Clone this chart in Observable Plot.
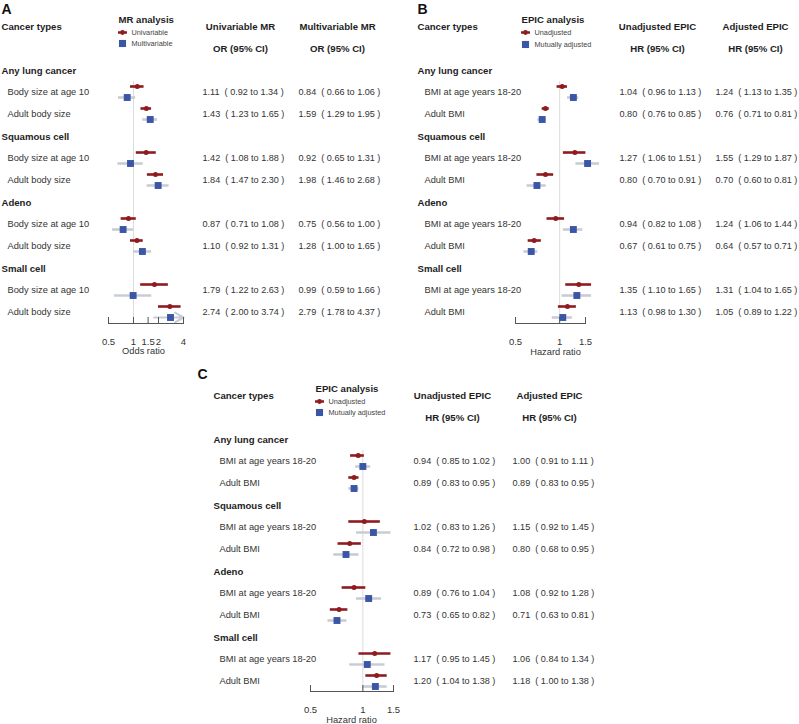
<!DOCTYPE html>
<html><head><meta charset="utf-8">
<script src="https://cdn.jsdelivr.net/npm/d3@7"></script>
<script src="https://cdn.jsdelivr.net/npm/@observablehq/plot@0.6"></script>
<style>
html,body{margin:0;padding:0;background:#fff;}
#root{position:relative;width:799px;height:724px;overflow:hidden;background:#fff;}
#root svg{position:absolute;left:0;top:0;}
</style></head><body><div id="root"></div>
<script>
// ---------- data ----------
const groups = ["Any lung cancer", "Squamous cell", "Adeno", "Small cell"];

// Panel A (MR analysis)
const exposuresA = ["Body size at age 10", "Adult body size"];
const uniOR  = [1.11, 1.43, 1.42, 1.84, 0.87, 1.10, 1.79, 2.74];
const uniLo  = [0.92, 1.23, 1.08, 1.47, 0.71, 0.92, 1.22, 2.00];
const uniHi  = [1.34, 1.65, 1.88, 2.30, 1.08, 1.31, 2.63, 3.74];
const mvOR   = [0.84, 1.59, 0.92, 1.98, 0.75, 1.28, 0.99, 2.79];
const mvLo   = [0.66, 1.29, 0.65, 1.46, 0.56, 1.00, 0.59, 1.78];
const mvHi   = [1.06, 1.95, 1.31, 2.68, 1.00, 1.65, 1.66, 4.37];
const ticksA = [0.5, 1, 1.5, 2, 4];

// Panel B (EPIC analysis)
const exposuresB = ["BMI at age years 18-20", "Adult BMI"];
const unadjB   = [1.04, 0.80, 1.27, 0.80, 0.94, 0.67, 1.35, 1.13];
const unadjBLo = [0.96, 0.76, 1.06, 0.70, 0.82, 0.61, 1.10, 0.98];
const unadjBHi = [1.13, 0.85, 1.51, 0.91, 1.08, 0.75, 1.65, 1.30];
const adjB     = [1.24, 0.76, 1.55, 0.70, 1.24, 0.64, 1.31, 1.05];
const adjBLo   = [1.13, 0.71, 1.29, 0.60, 1.06, 0.57, 1.04, 0.89];
const adjBHi   = [1.35, 0.81, 1.87, 0.81, 1.44, 0.71, 1.65, 1.22];
const ticksB = [0.5, 1, 1.5];

// Panel C (EPIC analysis)
const exposuresC = ["BMI at age years 18-20", "Adult BMI"];
const unadjC   = [0.94, 0.89, 1.02, 0.84, 0.89, 0.73, 1.17, 1.20];
const unadjCLo = [0.85, 0.83, 0.83, 0.72, 0.76, 0.65, 0.95, 1.04];
const unadjCHi = [1.02, 0.95, 1.26, 0.98, 1.04, 0.82, 1.45, 1.38];
const adjC     = [1.00, 0.89, 1.15, 0.80, 1.08, 0.71, 1.06, 1.18];
const adjCLo   = [0.91, 0.83, 0.92, 0.68, 0.92, 0.63, 0.84, 1.00];
const adjCHi   = [1.11, 0.95, 1.45, 0.95, 1.28, 0.81, 1.34, 1.38];
const ticksC = [0.5, 1, 1.5];

// ---------- styling ----------
const W = 799, H = 724;
const RED = "#8e1b1f", BLUE = "#3b56a6", GREY = "#c8ccd4", REF = "#dcdcdc", AXIS = "#555", TXT = "#1e1e1e", TXT2 = "#333";
const FONT = "'Liberation Sans', Arial, Helvetica, sans-serif";
const NB = "\u00a0";
const VAL_FS = 9.1;
const fmt = (e, l, h) => `${e.toFixed(2)}${NB}${NB}(${NB}${l.toFixed(2)} to ${h.toFixed(2)}${NB})`;

const lineDot = {
  draw(ctx) {
    ctx.moveTo(-4.5, -1.2); ctx.lineTo(4.5, -1.2); ctx.lineTo(4.5, 1.2); ctx.lineTo(-4.5, 1.2); ctx.closePath();
    ctx.moveTo(2.4, 0); ctx.arc(0, 0, 2.4, 0, 2 * Math.PI);
  }
};

function panel(c) {
  const L = c.L;
  const n = c.exposures.length;
  const rows = [];
  groups.forEach((g, gi) => {
    rows.push({id: `g${gi}`, label: g});
    c.exposures.forEach((e, ei) => rows.push({id: `r${gi}_${ei}`, label: e, k: gi * n + ei}));
  });
  const data = rows.filter(r => r.k !== undefined).map(r => ({
    id: r.id,
    e1: c.s1.est[r.k], l1: c.s1.lo[r.k], h1: c.s1.hi[r.k],
    e2: c.s2.est[r.k], l2: c.s2.lo[r.k], h2: c.s2.hi[r.k]
  }));
  const ML = L.axisX0, MR = W - L.axisX1, MB = H - L.axisY;
  const dx = x => x - ML;
  const T = (text, x, y, o = {}) => Plot.text([text], {
    text: d => d, frameAnchor: "top-left", dx: dx(x), dy: y,
    lineAnchor: "middle", textAnchor: "start", fill: TXT, fontSize: 9.3, ...o
  });
  const clipMax = c.clipMax ?? Infinity;
  const inside = data.filter(d => d.h2 <= clipMax);
  const over = data.filter(d => d.h2 > clipMax);

  const marks = [
    Plot.ruleX([1], {x: d => d, stroke: REF, strokeWidth: 1, insetTop: L.refTop}),
    Plot.ruleY(inside, {y: "id", x1: "l2", x2: "h2", dy: 5, stroke: GREY, strokeWidth: 2.6}),
    Plot.arrow(over, {y1: "id", y2: "id", x1: "l2", x2: () => clipMax, dy: 5, stroke: GREY, strokeWidth: 2.2, headLength: 7}),
    Plot.dot(data, {y: "id", x: "e2", dy: 5, symbol: "square", r: 3.9, fill: BLUE}),
    Plot.ruleY(data, {y: "id", x1: "l1", x2: "h1", dy: -6, stroke: RED, strokeWidth: 2.6}),
    Plot.dot(data, {y: "id", x: "e1", dy: -6, r: 2.5, fill: RED}),
    // axis
    Plot.frame({anchor: "bottom", stroke: AXIS}),
    Plot.ruleX(c.ticks, {x: d => d, insetTop: L.axisY - 6, stroke: AXIS}),
    Plot.text(c.ticks, {x: d => d, frameAnchor: "bottom", dy: 18, text: d => String(d), fontSize: 9.5, fill: TXT2, lineAnchor: "middle"}),
    T(c.axisLabel, L.axisLabelX, L.axisLabelY, {textAnchor: "middle", fill: TXT2}),
    // row labels
    Plot.text(rows.filter(r => r.k === undefined), {y: "id", text: "label", frameAnchor: "left", dx: dx(L.groupX), textAnchor: "start", fontWeight: "bold", fontSize: 9.6, fill: TXT}),
    Plot.text(rows.filter(r => r.k !== undefined), {y: "id", text: "label", frameAnchor: "left", dx: dx(L.rowX), textAnchor: "start", fontSize: 9.3, fill: TXT2}),
    // values
    Plot.text(data, {y: "id", text: d => fmt(d.e1, d.l1, d.h1), frameAnchor: "left", dx: dx(L.col1X), textAnchor: "start", fontSize: VAL_FS, fill: TXT2}),
    Plot.text(data, {y: "id", text: d => fmt(d.e2, d.l2, d.h2), frameAnchor: "left", dx: dx(L.col2X), textAnchor: "start", fontSize: VAL_FS, fill: TXT2}),
    // headers
    Plot.text([c.header], {y: () => "h1", text: d => d, frameAnchor: "left", dx: dx(L.groupX), textAnchor: "start", fontWeight: "bold", fontSize: 9.6, fill: TXT}),
    Plot.text([c.col1Title], {y: () => "h1", text: d => d, frameAnchor: "left", dx: dx(L.head1X), textAnchor: "middle", fontWeight: "bold", fontSize: 9.6, fill: TXT}),
    Plot.text([c.col2Title], {y: () => "h1", text: d => d, frameAnchor: "left", dx: dx(L.head2X), textAnchor: "middle", fontWeight: "bold", fontSize: 9.6, fill: TXT}),
    Plot.text([c.colSub], {y: () => "h2", text: d => d, frameAnchor: "left", dx: dx(L.head1X), textAnchor: "middle", fontWeight: "bold", fontSize: 9.6, fill: TXT}),
    Plot.text([c.colSub], {y: () => "h2", text: d => d, frameAnchor: "left", dx: dx(L.head2X), textAnchor: "middle", fontWeight: "bold", fontSize: 9.6, fill: TXT}),
    // legend
    T(c.legendTitle, L.legX, L.legY[0], {fontWeight: "bold", fontSize: 9.6}),
    Plot.dot([0], {frameAnchor: "top-left", dx: dx(L.legX + 4), dy: L.legY[1], symbol: lineDot, fill: RED}),
    Plot.dot([0], {frameAnchor: "top-left", dx: dx(L.legX + 4), dy: L.legY[2], symbol: "square", r: 4, fill: BLUE}),
    T(c.s1.name, L.legX + 13, L.legY[1], {fontSize: 7.3, fill: "#444"}),
    T(c.s2.name, L.legX + 13, L.legY[2], {fontSize: 7.3, fill: "#444"}),
    // panel letter
    T(c.letter, L.letterX, L.letterY, {fontSize: 14, fontWeight: "bold", fill: "#111", lineAnchor: "top"})
  ];

  const svg = Plot.plot({
    width: W, height: H,
    marginLeft: ML, marginRight: MR, marginTop: 0, marginBottom: MB,
    x: {type: "log", domain: c.xDomain, axis: null},
    y: {type: "point", domain: ["h1", "h2", ...rows.map(r => r.id)], range: [L.headY, L.lastY], padding: 0, axis: null},
    style: {fontFamily: FONT, background: "transparent", overflow: "visible"},
    marks
  });
  svg.style.position = "absolute";
  svg.style.left = "0px";
  svg.style.top = "0px";
  svg.style.background = "transparent";
  svg.style.maxWidth = "none";
  return svg;
}

const root = document.getElementById("root");

root.appendChild(panel({
  letter: "A", exposures: exposuresA, xDomain: [0.5, 4], ticks: ticksA, clipMax: 4,
  header: "Cancer types", col1Title: "Univariable MR", col2Title: "Multivariable MR", colSub: "OR (95% CI)",
  legendTitle: "MR analysis", axisLabel: "Odds ratio",
  s1: {name: "Univariable", est: uniOR, lo: uniLo, hi: uniHi},
  s2: {name: "Multivariable", est: mvOR, lo: mvLo, hi: mvHi},
  L: {letterX: 1, letterY: 3.5, axisX0: 108, axisX1: 183, axisY: 323, headY: 26, lastY: 312, refTop: 81,
      groupX: 1, rowX: 7, col1X: 202, col2X: 298, head1X: 240, head2X: 337,
      legX: 118, legY: [19, 32, 43], axisLabelX: 143, axisLabelY: 351}
}));

root.appendChild(panel({
  letter: "B", exposures: exposuresB, xDomain: [0.5, 1.5], ticks: ticksB,
  header: "Cancer types", col1Title: "Unadjusted EPIC", col2Title: "Adjusted EPIC", colSub: "HR (95% CI)",
  legendTitle: "EPIC analysis", axisLabel: "Hazard ratio",
  s1: {name: "Unadjusted", est: unadjB, lo: unadjBLo, hi: unadjBHi},
  s2: {name: "Mutually adjusted", est: adjB, lo: adjBLo, hi: adjBHi},
  L: {letterX: 417, letterY: 3.5, axisX0: 515, axisX1: 585, axisY: 323, headY: 26, lastY: 312, refTop: 81,
      groupX: 417, rowX: 424, col1X: 619, col2X: 715, head1X: 657, head2X: 755,
      legX: 521, legY: [19, 32, 44], axisLabelX: 555, axisLabelY: 352}
}));

root.appendChild(panel({
  letter: "C", exposures: exposuresC, xDomain: [0.5, 1.5], ticks: ticksC,
  header: "Cancer types", col1Title: "Unadjusted EPIC", col2Title: "Adjusted EPIC", colSub: "HR (95% CI)",
  legendTitle: "EPIC analysis", axisLabel: "Hazard ratio",
  s1: {name: "Unadjusted", est: unadjC, lo: unadjCLo, hi: unadjCHi},
  s2: {name: "Mutually adjusted", est: adjC, lo: adjCLo, hi: adjCHi},
  L: {letterX: 197, letterY: 369, axisX0: 310, axisX1: 393, axisY: 691, headY: 395, lastY: 681, refTop: 450,
      groupX: 213, rowX: 219, col1X: 413, col2X: 512, head1X: 452, head2X: 549,
      legX: 315, legY: [388, 401, 412], axisLabelX: 351, axisLabelY: 720}
}));
</script>
</body></html>
